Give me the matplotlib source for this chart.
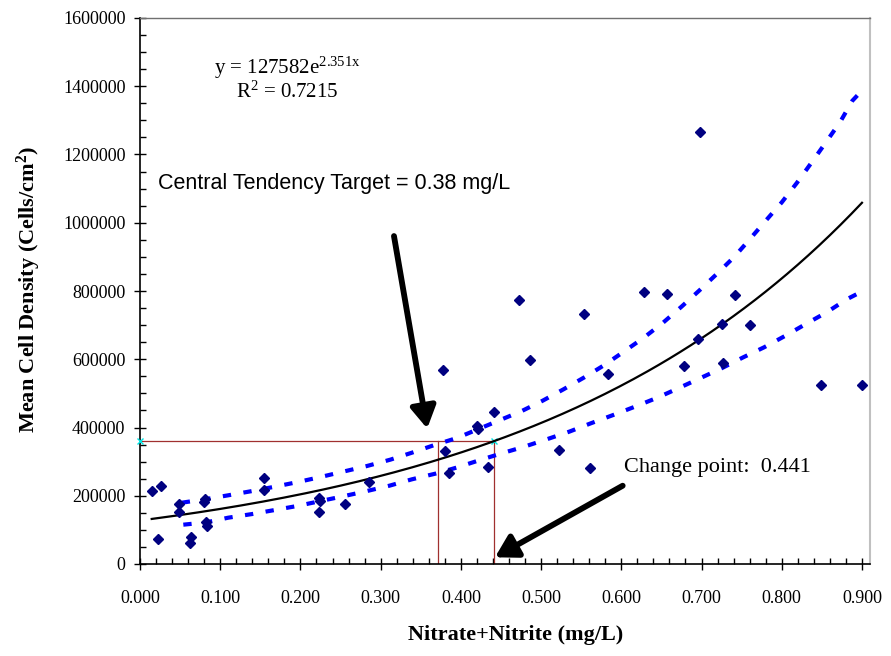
import numpy as np
import matplotlib
matplotlib.use("Agg")
import matplotlib.pyplot as plt
from matplotlib.ticker import MultipleLocator, FuncFormatter

plt.rcParams['font.family'] = ['Liberation Serif', 'DejaVu Serif']
plt.rcParams['mathtext.fontset'] = 'custom'
plt.rcParams['mathtext.rm'] = 'Liberation Serif'
plt.rcParams['mathtext.it'] = 'Liberation Serif:italic'
plt.rcParams['mathtext.bf'] = 'Liberation Serif:bold'

# ---- data ----
nitrate = [0.0146, 0.026, 0.0224, 0.049, 0.049, 0.0636, 0.0627, 0.080, 0.081,
           0.082, 0.083, 0.1546, 0.1546, 0.223, 0.2244, 0.223, 0.255, 0.285,
           0.3773, 0.3806, 0.3856, 0.420, 0.421, 0.4338, 0.441, 0.4725, 0.4866,
           0.5223, 0.553, 0.5614, 0.5838, 0.6287, 0.657, 0.6778, 0.6952, 0.698,
           0.7259, 0.7272, 0.7417, 0.760, 0.849, 0.900]
density = [215000, 228000, 72000, 177000, 153000, 78000, 61000, 183000, 190000,
           123000, 112000, 252000, 217000, 193000, 186000, 153000, 176000, 240000,
           568000, 332000, 266000, 404000, 397000, 283000, 445000, 775000, 598000,
           334000, 733000, 281000, 557000, 796000, 792000, 580000, 658000, 1266000,
           703000, 588000, 787000, 699000, 525000, 525000]

# fitted trendline  y = 127582 e^(2.351 x)
fit_a = 127582
fit_b = 2.351
r2_text = "0.7215"

upper_x = [0.052, 0.083, 0.110, 0.140, 0.168, 0.197, 0.225, 0.253, 0.283, 0.312,
           0.339, 0.366, 0.395, 0.447, 0.476, 0.502, 0.528, 0.554, 0.579, 0.603,
           0.628, 0.652, 0.675, 0.697, 0.719, 0.741, 0.760, 0.780, 0.800, 0.819,
           0.837, 0.855, 0.873, 0.888, 0.897]
upper_y = [179600, 190500, 201300, 213900, 226500, 240300, 254900, 270500, 287200,
           305700, 326200, 347800, 369200, 420000, 448400, 478600, 512000, 547100,
           583200, 622100, 663200, 707100, 754000, 801000, 849900, 900500, 951400,
           1005900, 1059800, 1117300, 1175900, 1235600, 1296000, 1357500, 1380000]

lower_x = [0.054, 0.083, 0.110, 0.140, 0.168, 0.198, 0.227, 0.255, 0.283, 0.311,
           0.339, 0.368, 0.396, 0.424, 0.451, 0.479, 0.507, 0.535, 0.562, 0.590,
           0.617, 0.645, 0.671, 0.698, 0.725, 0.752, 0.778, 0.804, 0.830, 0.856,
           0.881, 0.897]
lower_y = [115200, 122200, 135700, 146500, 158200, 170900, 185500, 199300, 213900,
           229500, 248200, 264600, 283400, 304800, 324400, 343800, 365400, 387700,
           412300, 436700, 461000, 487400, 514900, 544200, 573500, 605700, 635000,
           668200, 703300, 737600, 775700, 795000]

target_x = 0.372
change_x = 0.441
ref_y = 360000

x_ticks = [0.0, 0.1, 0.2, 0.3, 0.4, 0.5, 0.6, 0.7, 0.8, 0.9]
y_ticks = [0, 200000, 400000, 600000, 800000, 1000000, 1200000, 1400000, 1600000]

# ---- figure ----
fig = plt.figure(figsize=(8.91, 6.56), dpi=100)
ax = fig.add_axes([140/891, 1-564/656, 730/891, 546/656])

ax.set_xlim(0, 0.91)
ax.set_ylim(0, 1600000)

# reference lines
red = '#A0302F'
ax.plot([0, change_x], [ref_y, ref_y], color=red, lw=0.9, zorder=2)
ax.plot([target_x, target_x], [0, ref_y], color=red, lw=0.9, zorder=2)
ax.plot([change_x, change_x], [0, ref_y], color=red, lw=0.9, zorder=2)
ax.plot([0, change_x], [ref_y, ref_y], ls='none', marker='x', ms=4,
        mew=1, color='#00E5E5', zorder=3, clip_on=False)

# bands
ax.plot(upper_x, upper_y, color='#0000FF', lw=3.0, ls=(0, (2.0, 3.0)), zorder=3)
ax.plot(lower_x, lower_y, color='#0000FF', lw=3.0, ls=(0, (2.0, 3.0)), zorder=3)

# trendline
xf = np.linspace(min(nitrate), max(nitrate), 200)
ax.plot(xf, fit_a * np.exp(fit_b * xf), color='black', lw=1.6, zorder=4)

# data points
ax.plot(nitrate, density, ls='none', marker='D', ms=5.3, color='#000080', zorder=5)

# ticks
ax.set_xticks(x_ticks)
ax.set_yticks(y_ticks)
ax.xaxis.set_minor_locator(MultipleLocator(0.02))
ax.yaxis.set_minor_locator(MultipleLocator(50000))
ax.xaxis.set_major_formatter(FuncFormatter(lambda v, p: f"{v:.3f}"))
ax.yaxis.set_major_formatter(FuncFormatter(lambda v, p: f"{int(round(v))}"))
ax.tick_params(axis='both', which='major', direction='inout', length=9,
               width=1, labelsize=13, colors='black')
ax.tick_params(axis='both', which='minor', direction='in', length=4, width=1)
ax.tick_params(axis='x', which='major', pad=14)
ax.tick_params(axis='y', which='major', pad=6)

for s in ['left', 'bottom']:
    ax.spines[s].set_color('black')
    ax.spines[s].set_linewidth(1.2)
ax.spines['top'].set_color('#707070')
ax.spines['top'].set_linewidth(1.0)
ax.spines['right'].set_color('#C0C0C0')
ax.spines['right'].set_linewidth(1.5)

ax.set_xlabel('Nitrate+Nitrite (mg/L)', fontsize=16, fontweight='bold')
ax.set_ylabel(r'Mean Cell Density (Cells/cm$^{\mathbf{2}}$)', fontsize=16,
              fontweight='bold')
ax.xaxis.set_label_coords(0.514, -0.112)
ax.yaxis.set_label_coords(-0.133, 0.502)

# annotations
ax.text(0.0922, 1453000, r'y = 127582e$^{\mathrm{%.3fx}}$' % fit_b,
        fontsize=15, ha='left', va='center')
ax.text(0.1197, 1383000, r'R$^{\mathrm{2}}$ = ' + r2_text,
        fontsize=15, ha='left', va='center')
ax.text(0.0224, 1116000, 'Central Tendency Target = 0.38 mg/L',
        family=['Liberation Sans', 'DejaVu Sans'], fontsize=15.5,
        ha='left', va='center')
ax.text(0.6033, 284000, 'Change point:  %.3f' % change_x, fontsize=16,
        ha='left', va='center')

arrow_props = dict(arrowstyle='-|>,head_length=0.65,head_width=0.38',
                   lw=4.2, color='black', mutation_scale=20,
                   shrinkA=0, shrinkB=0)
ax.annotate('', xy=(0.358, 397000), xytext=(0.3166, 961000),
            arrowprops=arrow_props, zorder=6)
ax.annotate('', xy=(0.4425, 19600), xytext=(0.6017, 229400),
            arrowprops=arrow_props, zorder=6)

fig.savefig('out.png', dpi=100)
